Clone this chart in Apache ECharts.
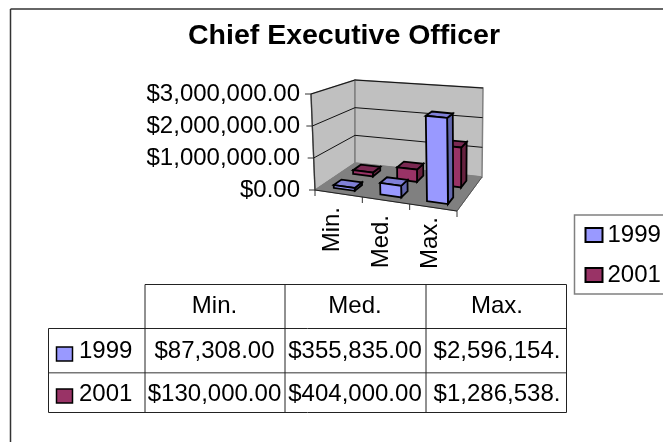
<!DOCTYPE html>
<html>
<head>
<meta charset="utf-8">
<style>html,body{margin:0;padding:0;background:#fff}#c{width:663px;height:442px}</style>
<script src="https://cdn.jsdelivr.net/npm/echarts@6/dist/echarts.min.js"></script>
</head>
<body>
<div id="c"></div>
<script>
const chartTitle = 'Chief Executive Officer';
const categories = ['Min.', 'Med.', 'Max.'];
const years = ['1999', '2001'];
const values1999 = [87308, 355835, 2596154];
const values2001 = [130000, 404000, 1286538];
const yTicks = [0, 1000000, 2000000, 3000000];
const headerRow = ['Min.', 'Med.', 'Max.'];
const tableRow1999 = ['$87,308.00', '$355,835.00', '$2,596,154.'];
const tableRow2001 = ['$130,000.00', '$404,000.00', '$1,286,538.'];

const FONT = '"Liberation Sans", Arial, sans-serif';
const G = {left: 307.5, top: 94, width: 147, height: 96};
// corners of the 3D box on screen: [u][w], bottom and top
const BOX = {
  bottom: [[[315,190],[355,163]],[[457,211],[482,177]]],
  top:    [[[311,94],[355,80]],[[456,109],[483,88]]]
};
function lerp(a,b,t){return a+(b-a)*t;}
function project(u,w,v){
  const r=[];
  for(let k=0;k<2;k++){
    const bot=lerp(lerp(BOX.bottom[0][0][k],BOX.bottom[1][0][k],u),lerp(BOX.bottom[0][1][k],BOX.bottom[1][1][k],u),w);
    const top=lerp(lerp(BOX.top[0][0][k],BOX.top[1][0][k],u),lerp(BOX.top[0][1][k],BOX.top[1][1][k],u),w);
    r.push(lerp(bot,top,v));
  }
  return r;
}
const toU = x => (x-G.left)/G.width;
const toV = y => (G.top+G.height-y)/G.height;

function poly(points,fill,stroke,lw){
  return {type:'polygon',shape:{points},style:{fill,stroke,lineWidth:lw}};
}
function seg(a,b,color,lw){
  return {type:'line',shape:{x1:a[0],y1:a[1],x2:b[0],y2:b[1]},style:{stroke:color,lineWidth:lw}};
}
function wallRender(params,api){
  const v=toV(api.coord([0,api.value(0)])[1]);
  const children=[];
  if(params.dataIndex===0){
    children.push(poly([project(0,0,0),project(0,1,0),project(0,1,1),project(0,0,1)],'#c0c0c0','#808080',1.5));
    children.push(poly([project(0,1,0),project(1,1,0),project(1,1,1),project(0,1,1)],'#c0c0c0','#808080',1.5));
    children.push(poly([project(0,0,0),project(1,0,0),project(1,1,0),project(0,1,0)],'#808080','#808080',1));
    children.push(seg(project(0,0,0),project(1,0,0),'#222',1.2));
    children.push(seg(project(1,0,0),project(1,1,0),'#555',1));
    children.push(seg(project(0,0,0),project(0,0,1),'#333',1.2));
    [0,1/3,2/3,1].forEach(u=>{
      const p=project(u,0,0);
      children.push(seg(p,[p[0],p[1]+6],'#333',1));
    });
  } else {
    children.push(seg(project(0,0,v),project(0,1,v),'#111',1));
    children.push(seg(project(0,1,v),project(1,1,v),'#111',1));
  }
  const t=project(0,0,v);
  children.push(seg([t[0]-6,t[1]],t,'#333',1));
  return {type:'group',children};
}
function barRender(wc,colors){
  return function(params,api){
    const c=api.coord([api.value(0),api.value(1)]);
    const uc=toU(c[0]), v=toV(c[1]);
    const u0=uc-0.075,u1=uc+0.075,w0=wc-0.1,w1=wc+0.1;
    return {type:'group',children:[
      poly([project(u1,w0,0),project(u1,w1,0),project(u1,w1,v),project(u1,w0,v)],colors.side,'#000',1.8),
      poly([project(u0,w0,v),project(u1,w0,v),project(u1,w1,v),project(u0,w1,v)],colors.top,'#000',1.8),
      poly([project(u0,w0,0),project(u1,w0,0),project(u1,w0,v),project(u0,w0,v)],colors.front,'#000',1.8)
    ]};
  };
}
const C1999={front:'#9999ff',side:'#6266ad',top:'#8080d8'};
const C2001={front:'#993366',side:'#66223f',top:'#7a2952'};
const labelShift=[0,8,10];

const graphics=[
  {type:'line',shape:{x1:10.5,y1:9,x2:663,y2:9},style:{stroke:'#333',lineWidth:1.5}},
  {type:'line',shape:{x1:10.5,y1:9,x2:10.5,y2:442},style:{stroke:'#333',lineWidth:1.5}}
];
const T={xs:[145,285,426,566.5],left:48.5,ys:[284.5,328.5,372.7,412.5]};
function tLine(x1,y1,x2,y2,color,lw){
  graphics.push({type:'line',shape:{x1,y1,x2,y2},style:{stroke:color||'#222',lineWidth:lw||1}});
}
tLine(T.xs[0],T.ys[0],T.xs[3],T.ys[0]);
tLine(T.left,T.ys[1],T.xs[3],T.ys[1]);
tLine(T.left,T.ys[2],T.xs[3],T.ys[2],'#777',1.5);
tLine(T.left,T.ys[3],T.xs[3],T.ys[3]);
tLine(T.left,T.ys[1],T.left,T.ys[3]);
T.xs.forEach(x=>tLine(x,T.ys[0],x,T.ys[3]));
function tText(str,x,y,align){
  graphics.push({type:'text',x,y,style:{text:str,fill:'#000',font:'24px '+FONT,align:align||'center',verticalAlign:'middle'}});
}
const colCenters=[214.5,355,497];
headerRow.forEach((s,i)=>tText(s,colCenters[i],306));
tableRow1999.forEach((s,i)=>tText(s,colCenters[i],351));
tableRow2001.forEach((s,i)=>tText(s,colCenters[i],394));
[[years[0],347,C1999.front,351],[years[1],389,C2001.front,394]].forEach(r=>{
  graphics.push({type:'rect',shape:{x:56.5,y:r[1],width:16,height:14},style:{fill:r[2],stroke:'#000',lineWidth:1.5}});
  tText(r[0],79,r[3],'left');
});

const chart=echarts.init(document.getElementById('c'),null,{renderer:'canvas'});
chart.setOption({
  animation:false,
  backgroundColor:'#fff',
  title:{text:chartTitle,left:339,top:17,textAlign:'center',textStyle:{fontFamily:FONT,fontSize:28.5,fontWeight:'bold',color:'#000'}},
  grid:{left:G.left,top:G.top,width:G.width,height:G.height,containLabel:false},
  legend:{
    data:years,orient:'vertical',left:574.5,top:215,
    padding:[8,70,7,10],itemGap:16,itemWidth:17,itemHeight:14,icon:'rect',
    borderColor:'#808080',borderWidth:1.5,
    textStyle:{fontFamily:FONT,fontSize:24,color:'#000'},
    selectedMode:false
  },
  xAxis:{type:'category',data:categories.map((c,i)=>({value:c,textStyle:{padding:[0,labelShift[i],0,0]}})),
    axisLine:{show:false},axisTick:{show:false},splitLine:{show:false},
    axisLabel:{rotate:90,margin:17,interval:0,fontFamily:FONT,fontSize:24,color:'#000'}},
  yAxis:{type:'value',min:0,max:3000000,interval:1000000,
    axisLine:{show:false},axisTick:{show:false},splitLine:{show:false},
    axisLabel:{margin:7.5,fontFamily:FONT,fontSize:24,color:'#000',
      formatter:v=>'$'+v.toLocaleString('en-US',{minimumFractionDigits:2,maximumFractionDigits:2})}},
  series:[
    {type:'custom',name:'walls',silent:true,z:1,data:yTicks.map(v=>[v]),encode:{y:0},renderItem:wallRender},
    {type:'custom',name:years[1],z:2,itemStyle:{color:C2001.front,borderColor:'#000',borderWidth:1.5},
      data:categories.map((c,i)=>[i,values2001[i]]),encode:{x:0,y:1},renderItem:barRender(0.75,C2001)},
    {type:'custom',name:years[0],z:3,itemStyle:{color:C1999.front,borderColor:'#000',borderWidth:1.5},
      data:categories.map((c,i)=>[i,values1999[i]]),encode:{x:0,y:1},renderItem:barRender(0.25,C1999)}
  ],
  graphic:{elements:graphics}
});
</script>
</body>
</html>
